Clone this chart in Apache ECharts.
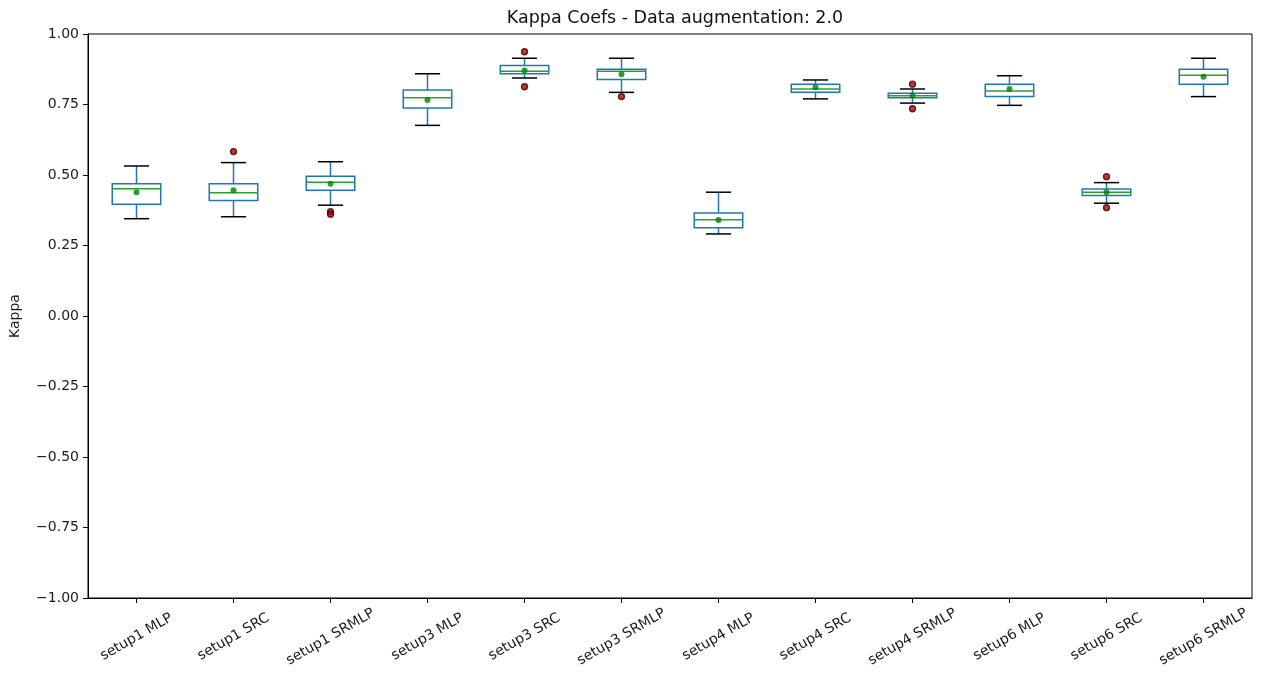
<!DOCTYPE html>
<html>
<head>
<meta charset="utf-8">
<title>Kappa Coefs</title>
<script src="https://cdn.jsdelivr.net/npm/echarts@6/dist/echarts.min.js"></script>
<style>
  html, body { margin: 0; padding: 0; background: #fff; }
  #chart { width: 1265px; height: 678px; }
</style>
</head>
<body>
<div id="chart"></div>
<script>
// Kappa coefficients per setup / classifier (data augmentation factor 2.0)
const categories = [
  'setup1 MLP', 'setup1 SRC', 'setup1 SRMLP',
  'setup3 MLP', 'setup3 SRC', 'setup3 SRMLP',
  'setup4 MLP', 'setup4 SRC', 'setup4 SRMLP',
  'setup6 MLP', 'setup6 SRC', 'setup6 SRMLP'
];
const whiskerLow  = [0.345, 0.352, 0.393, 0.676, 0.844, 0.793, 0.291, 0.770, 0.755, 0.747, 0.400, 0.778];
const q1          = [0.396, 0.410, 0.446, 0.738, 0.859, 0.839, 0.313, 0.793, 0.774, 0.778, 0.427, 0.822];
const medians     = [0.451, 0.437, 0.474, 0.774, 0.868, 0.868, 0.341, 0.805, 0.781, 0.798, 0.439, 0.854];
const q3          = [0.469, 0.469, 0.496, 0.801, 0.888, 0.875, 0.365, 0.822, 0.790, 0.822, 0.450, 0.875];
const whiskerHigh = [0.532, 0.544, 0.547, 0.859, 0.914, 0.914, 0.439, 0.837, 0.805, 0.852, 0.473, 0.914];
const means       = [0.439, 0.446, 0.469, 0.766, 0.871, 0.857, 0.340, 0.811, 0.782, 0.805, 0.439, 0.848];
// outliers as [category index, kappa]
const outliers = [
  [1, 0.583],
  [2, 0.370], [2, 0.361],
  [4, 0.937], [4, 0.813],
  [5, 0.778],
  [8, 0.822], [8, 0.735],
  [10, 0.494], [10, 0.384]
];
const yTicks = { min: -1, max: 1, step: 0.25 };

const FONT = 'DejaVu Sans';
const BOX_COLOR = '#1f77b4';
const MEDIAN_COLOR = '#2ca02c';
const CAP_COLOR = '#000000';

const boxData = categories.map((c, i) => [i, whiskerLow[i], q1[i], medians[i], q3[i], whiskerHigh[i]]);
const meanData = categories.map((c, i) => [i, means[i]]);

function renderBox(params, api) {
  const i = api.value(0);
  const pLo = api.coord([i, api.value(1)]);
  const pQ1 = api.coord([i, api.value(2)]);
  const pMed = api.coord([i, api.value(3)]);
  const pQ3 = api.coord([i, api.value(4)]);
  const pHi = api.coord([i, api.value(5)]);
  const band = api.size([1, 0])[0];
  const x = pMed[0];
  const bw = band * 0.5;
  const cw = band * 0.26;
  const line = (x1, y1, x2, y2, color) => ({
    type: 'line',
    shape: { x1, y1, x2, y2 },
    style: { stroke: color, lineWidth: 1.5 }
  });
  return {
    type: 'group',
    children: [
      line(x, pQ1[1], x, pLo[1], BOX_COLOR),
      line(x, pQ3[1], x, pHi[1], BOX_COLOR),
      line(x - cw / 2, pLo[1], x + cw / 2, pLo[1], CAP_COLOR),
      line(x - cw / 2, pHi[1], x + cw / 2, pHi[1], CAP_COLOR),
      {
        type: 'rect',
        shape: { x: x - bw / 2, y: pQ3[1], width: bw, height: pQ1[1] - pQ3[1] },
        style: { fill: 'none', stroke: BOX_COLOR, lineWidth: 1.5 }
      },
      line(x - bw / 2, pMed[1], x + bw / 2, pMed[1], MEDIAN_COLOR)
    ]
  };
}

const chart = echarts.init(document.getElementById('chart'), null, { renderer: 'canvas' });
chart.setOption({
  animation: false,
  backgroundColor: '#ffffff',
  title: {
    text: 'Kappa Coefs - Data augmentation: 2.0',
    left: 670,
    top: 4,
    textAlign: 'center',
    textStyle: { fontFamily: FONT, fontSize: 17.5, fontWeight: 'normal', color: '#111' }
  },
  grid: {
    left: 88, right: 13, top: 34, bottom: 80,
    show: true, borderColor: '#000', borderWidth: 1, backgroundColor: 'transparent'
  },
  xAxis: {
    type: 'category',
    data: categories,
    boundaryGap: true,
    axisLine: { show: true, onZero: false, lineStyle: { color: '#000', width: 1 } },
    axisTick: { show: true, alignWithLabel: true, length: 5, lineStyle: { color: '#000' } },
    axisLabel: {
      interval: 0,
      rotate: 30,
      align: 'center',
      verticalAlign: 'middle',
      margin: 39,
      fontFamily: FONT,
      fontSize: 14,
      color: '#1a1a1a'
    },
    splitLine: { show: false }
  },
  yAxis: {
    type: 'value',
    min: yTicks.min,
    max: yTicks.max,
    interval: yTicks.step,
    name: 'Kappa',
    nameLocation: 'middle',
    nameRotate: 90,
    nameGap: 66,
    nameTextStyle: { fontFamily: FONT, fontSize: 14, color: '#1a1a1a' },
    axisLine: { show: true, lineStyle: { color: '#000', width: 1 } },
    axisTick: { show: true, length: 5, lineStyle: { color: '#000' } },
    axisLabel: {
      margin: 9,
      fontFamily: FONT,
      fontSize: 14,
      color: '#1a1a1a',
      formatter: v => (v < 0 ? '\u2212' : '') + Math.abs(v).toFixed(2)
    },
    splitLine: { show: false }
  },
  series: [
    {
      type: 'custom',
      name: 'box',
      renderItem: renderBox,
      data: boxData,
      encode: { x: 0, y: [1, 2, 3, 4, 5] },
      z: 2
    },
    {
      type: 'scatter',
      name: 'mean',
      data: meanData,
      symbol: 'circle',
      symbolSize: 6,
      itemStyle: { color: '#008000' },
      z: 3
    },
    {
      type: 'scatter',
      name: 'outliers',
      data: outliers,
      symbol: 'circle',
      symbolSize: 6,
      itemStyle: { color: '#c00000', borderColor: '#2a0000', borderWidth: 1.3 },
      z: 3
    }
  ]
});
</script>
</body>
</html>
